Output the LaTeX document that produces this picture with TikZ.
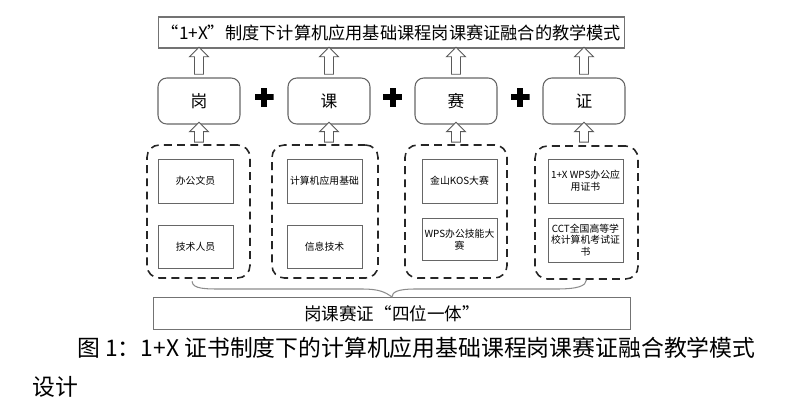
\documentclass[tikz,border=0pt]{standalone}
\usepackage{fontspec}
\usepackage{tikz}
\usetikzlibrary{calc,shapes.arrows}
\newfontfamily\cjk{Noto Sans CJK SC}

\begin{document}
\begin{tikzpicture}[
  x=0.02cm, y=-0.02cm,
  headbox/.style={draw=black!55, line width=0.6pt, inner sep=0pt,
                  minimum width=9.34cm, minimum height=0.62cm,
                  font=\cjk\fontsize{9.8}{12}\selectfont},
  rolebox/.style={draw=black!60, line width=0.6pt, rounded corners=5pt,
                  minimum width=1.64cm, minimum height=0.92cm,
                  font=\cjk\fontsize{9.5}{11}\selectfont},
  groupbox/.style={draw=black!85, line width=0.9pt, rounded corners=7pt,
                   dash pattern=on 4.5pt off 3pt, minimum height=2.66cm},
  itembox/.style={draw=black!60, line width=0.5pt, minimum width=1.5cm,
                  align=center, inner sep=1pt,
                  font=\cjk\fontsize{5.6}{6.6}\selectfont},
  hollow/.style={single arrow, draw=black!65, fill=white, line width=0.5pt,
                 rotate=90, inner xsep=0pt, inner ysep=2.3pt,
                 single arrow head extend=2.85pt, minimum height=#1},
  plusmark/.style={minimum size=0.38cm, inner sep=0pt, path picture={
      \fill ($(path picture bounding box.center)+(-0.19cm,-0.06cm)$) rectangle ++(0.38cm,0.12cm);
      \fill ($(path picture bounding box.center)+(-0.06cm,-0.19cm)$) rectangle ++(0.12cm,0.38cm);}},
  brace/.style={draw=black!45, line width=0.6pt},
  caption/.style={anchor=west, inner sep=0pt, font=\cjk\fontsize{13}{15}\selectfont}
]
  \useasboundingbox (0,0) rectangle (802,400);

  % top line
  \node[headbox] (title) at (391.5,32.5) {“1+X”制度下计算机应用基础课程岗课赛证融合的教学模式};

  % the four parts
  \node[rolebox] (gang)  at (199,101) {岗};
  \node[rolebox] (ke)    at (329,101) {课};
  \node[rolebox] (sai)   at (456,101) {赛};
  \node[rolebox] (zheng) at (584,101) {证};

  \foreach \a/\b in {gang/ke,ke/sai,sai/zheng}
    \node[plusmark] (plus-\a) at ($(\a.east)!0.5!(\b.west)+(0,-4)$) {};

  % dashed groups
  \node[groupbox, minimum width=2.06cm] (g1) at (198.5,211.5) {};
  \node[groupbox, minimum width=2.12cm] (g2) at (325,211.5)   {};
  \node[groupbox, minimum width=2.04cm] (g3) at (456,211.5)   {};
  \node[groupbox, minimum width=2.06cm] (g4) at (586.5,212.5) {};

  \node[itembox, minimum height=0.88cm] (job1)  at (195.5,181)   {办公文员};
  \node[itembox, minimum height=0.86cm] (job2)  at (195.5,246.5) {技术人员};
  \node[itembox, minimum height=0.88cm] (crs1)  at (324.5,181)   {计算机应用基础};
  \node[itembox, minimum height=0.86cm] (crs2)  at (324.5,246.5) {信息技术};
  \node[itembox, minimum height=0.88cm] (cmp1)  at (459.5,181)   {金山KOS大赛};
  \node[itembox, minimum height=0.84cm] (cmp2)  at (459.5,239.5) {WPS办公技能大\\赛};
  \node[itembox, minimum height=0.88cm] (cert1) at (585.5,181)   {1+X WPS办公应\\用证书};
  \node[itembox, minimum height=0.88cm] (cert2) at (585.5,240)   {CCT全国高等学\\校计算机考试证\\书};

  % hollow arrows
  \foreach \r in {gang,ke,sai,zheng} {
    \node[hollow=0.54cm] (up-\r) at ($(\r.north)!0.5!(\r.north |- title.south)$) {};
    \node[hollow=0.40cm] (in-\r) at ($(\r.south)!0.5!(\r.south |- g1.north)$) {};
  }

  % bottom line and brace
  \node[headbox, minimum width=9.56cm, minimum height=0.64cm,
        font=\cjk\fontsize{10}{12}\selectfont] (unity) at (392,313.5) {岗课赛证“四位一体”};

  \draw[brace] ([xshift=-0.13cm,yshift=-0.05cm]g1.south)
      .. controls +(1,8) and (205,289) .. (225,289) -- (362,289)
      .. controls (379,289) and (385,292) .. (unity.north)
      .. controls (392,292) and (398,289) .. (415,289) -- (556,289)
      .. controls (578,289) and (586,286) .. (g4.south);

  % caption
  \node[caption] (cap1) at (77,348) {图 1：1+X 证书制度下的计算机应用基础课程岗课赛证融合教学模式};
  \node[caption] (cap2) at (32,387) {设计};
\end{tikzpicture}
\end{document}
